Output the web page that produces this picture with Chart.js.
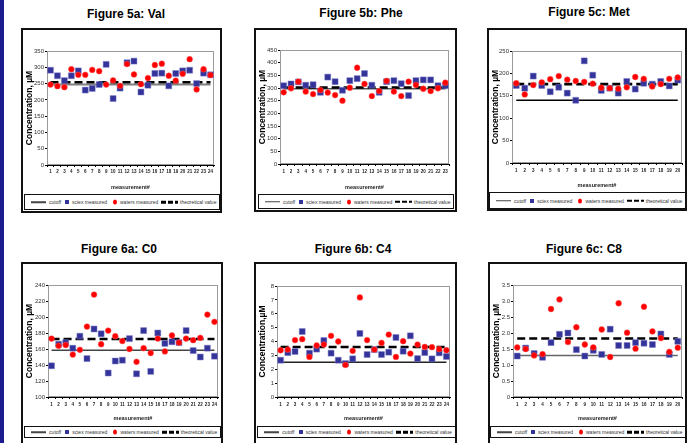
<!DOCTYPE html>
<html>
<head>
<meta charset="utf-8">
<script src="https://cdn.jsdelivr.net/npm/chart.js@4/dist/chart.umd.min.js"></script>
<style>
body{margin:0;background:#fff;width:694px;height:443px;overflow:hidden;position:relative;font-family:"Liberation Sans",Arial,sans-serif}
#strip{position:absolute;left:0;top:0;width:4px;height:443px;background:#1b1b8e}
.title{position:absolute;font-weight:bold;font-size:12px;line-height:12px;transform:translate(-50%,-50%);white-space:nowrap;color:#000}
.frame{position:absolute;border:2px solid #111;box-sizing:border-box;pointer-events:none}
canvas{position:absolute}
.legend{position:absolute;border:1.5px solid #111;box-sizing:border-box;font-size:5px;color:#333;background:#fff}
.legend span{position:absolute;top:50%;transform:translateY(-50%);white-space:nowrap}
.lg-solid{height:1.5px;background:#444}
.lg-sq{width:4px;height:4px;background:#333399}
.lg-ci{width:4px;height:5px;border-radius:50%;background:#ff0000}
.lg-dash{height:2.5px;background:repeating-linear-gradient(90deg,#000 0 5px,transparent 5px 7px)}
</style>
</head>
<body>
<div id="strip"></div>
<script>
"use strict";

//region Data
const labels24=["1","2","3","4","5","6","7","8","9","10","11","12","13","14","15","16","17","18","19","20","21","22","23","24"];
const labels23=["1","2","3","4","5","6","7","8","9","10","11","12","13","14","15","16","17","18","19","20","21","22","23"];
const labels20=["1","2","3","4","5","6","7","8","9","10","11","12","13","14","15","16","17","18","19","20"];

const valSciex=[291,274,259,274,289,230,235,247,309,204,236,314,319,224,245,281,282,243,281,289,291,250,282,277];
const valWaters=[247,242,239,294,277,277,292,288,247,260,243,310,278,248,267,307,311,274,259,280,325,232,294,276];
const valCutoff=247, valTheory=254;

const pheSciex=[309,316,324,311,313,283,343,325,291,329,337,357,311,283,325,329,317,270,329,332,332,309,309];
const pheWaters=[283,299,325,286,276,292,282,272,250,301,380,316,268,288,328,286,268,325,312,297,288,299,321];
const pheCutoff=297, pheTheory=302;

const metSciex=[173,167,194,173,159,169,156,140,228,196,162,167,156,182,165,178,176,182,172,185];
const metWaters=[178,153,174,180,187,194,186,183,181,177,168,167,166,169,192,188,171,176,188,191];
const metCutoff=140, metTheory=176;

const c0Sciex=[139,166,168,161,176,148,185,179,130,145,146,173,129,183,132,180,167,169,168,183,158,150,161,151];
const c0Waters=[173,164,165,153,159,188,228,166,183,176,170,160,144,161,155,173,157,177,168,173,171,174,203,194];
const c0Cutoff=158.5, c0Theory=172.5;

const c4Sciex=[2.65,3.2,3.28,4.72,3.16,3.45,4.07,3.16,2.65,2.41,2.75,4.58,3.06,3.42,3.06,3.23,4.29,3.3,4.41,2.77,3.2,2.75,3.18,2.92];
const c4Waters=[3.37,3.42,4.1,4.17,2.89,3.71,3.78,4.41,4.0,2.31,3.33,7.18,4.1,3.42,3.9,4.5,2.89,4.02,3.13,3.78,3.61,3.59,3.45,3.37];
const c4Cutoff=2.5, c4Theory=3.6;

const c8Sciex=[1.28,1.53,1.36,1.24,1.70,1.96,2.0,1.48,1.28,1.46,1.33,2.12,1.61,1.61,1.70,1.68,1.64,1.97,1.33,1.74];
const c8Waters=[1.55,1.50,1.30,1.34,2.75,3.05,1.72,2.18,1.64,1.55,2.11,1.25,2.93,2.01,1.51,2.82,2.05,1.84,1.41,1.54];
const c8Cutoff=1.3, c8Theory=1.83;
//endregion

//region Panels
const panels=[
    {title:"Figure 5a: Val",tx:126,ty:14,labels:labels24,sciex:valSciex,waters:valWaters,cutoff:valCutoff,theory:valTheory,
     min:0,max:350,step:50,yTitle:"Concentration, µM",cutColor:"#808080",cutWidth:2,
     frame:{l:21,t:28,r:222,b:213},plot:{l:47,t:51,r:214,b:165},lab:172,mt:187,leg:{l:24,t:194,r:220,b:210}},
    {title:"Figure 5b: Phe",tx:361,ty:13,labels:labels23,sciex:pheSciex,waters:pheWaters,cutoff:pheCutoff,theory:pheTheory,
     min:0,max:450,step:50,yTitle:"Concentration, µM",cutColor:"#555",cutWidth:1.5,
     frame:{l:254,t:28,r:457,b:212},plot:{l:280,t:50,r:449,b:164},lab:172,mt:187,leg:{l:258,t:194,r:454,b:209}},
    {title:"Figure 5c: Met",tx:589,ty:12,labels:labels20,sciex:metSciex,waters:metWaters,cutoff:metCutoff,theory:metTheory,
     min:0,max:250,step:50,yTitle:"Concentration, µM",cutColor:"#000",cutWidth:1.5,
     frame:{l:487,t:28,r:687,b:211},plot:{l:512,t:51,r:683,b:163},lab:171,mt:185,leg:{l:489,t:192,r:686,b:209}},
    {title:"Figure 6a: C0",tx:119,ty:249,labels:labels24,sciex:c0Sciex,waters:c0Waters,cutoff:c0Cutoff,theory:c0Theory,
     min:100,max:240,step:20,yTitle:"Concentration, µM",cutColor:"#444",cutWidth:1.5,
     frame:{l:21,t:262,r:223,b:447},plot:{l:48,t:285,r:219,b:397},lab:405,mt:418,leg:{l:24,t:426,r:221,b:438}},
    {title:"Figure 6b: C4",tx:353,ty:249,labels:labels24,sciex:c4Sciex,waters:c4Waters,cutoff:c4Cutoff,theory:c4Theory,
     min:0,max:8,step:1,yTitle:"Concentration,µM",cutColor:"#222",cutWidth:1.5,
     frame:{l:254,t:262,r:457,b:447},plot:{l:277,t:286,r:450,b:397},lab:405,mt:418,leg:{l:257,t:426,r:456,b:438}},
    {title:"Figure 6c: C8",tx:584,ty:249,labels:labels20,sciex:c8Sciex,waters:c8Waters,cutoff:c8Cutoff,theory:c8Theory,
     min:0,max:3.5,step:0.5,yTitle:"Concentration, µM",cutColor:"#666",cutWidth:1.5,
     frame:{l:488,t:262,r:687,b:447},plot:{l:513,t:285,r:683,b:397},lab:405,mt:418,leg:{l:490,t:426,r:686,b:438}}
];
//endregion

//region Main
const plotBorder={
    id:"plotBorder",
    beforeDatasetsDraw(chart){
        const a=chart.chartArea, ctx=chart.ctx;
        ctx.save();
        ctx.strokeStyle="#9a9a9a";
        ctx.lineWidth=1;
        ctx.strokeRect(a.left+0.5,a.top+0.5,a.right-a.left-1,a.bottom-a.top-1);
        ctx.restore();
    }
};

function addDiv(cls,css,html){
    let d=document.createElement("div");
    d.className=cls;
    Object.assign(d.style,css);
    if(html) d.innerHTML=html;
    document.body.appendChild(d);
    return d;
}

function buildLegend(p){
    let w=p.leg.r-p.leg.l;
    let box=addDiv("legend",{left:p.leg.l+"px",top:p.leg.t+"px",width:w+"px",height:(p.leg.b-p.leg.t)+"px"});
    let f=w/196;
    let items=[
        ["lg-solid",6,15,""],["",24,0,"cutoff"],["lg-sq",40,0,""],["",47,0,"sciex measured"],
        ["lg-ci",88,0,""],["",95,0,"waters measured"],["lg-dash",136,17,""],["",155,0,"theoretical value"]
    ];
    for(let it of items){
        let s=document.createElement("span");
        if(it[0]) s.className=it[0];
        s.style.left=(it[1]*f)+"px";
        if(it[2]) s.style.width=(it[2]*f)+"px";
        if(it[3]) s.textContent=it[3];
        box.appendChild(s);
    }
}

for(let p of panels){
    addDiv("title",{left:p.tx+"px",top:p.ty+"px"},p.title);

    let cw=p.frame.r-p.frame.l, ch=p.leg.t-p.frame.t;
    let cv=document.createElement("canvas");
    cv.width=cw; cv.height=ch;
    cv.style.left=p.frame.l+"px"; cv.style.top=p.frame.t+"px";
    cv.style.width=cw+"px"; cv.style.height=ch+"px";
    document.body.appendChild(cv);

    let padL=4;
    let yW=p.plot.l-p.frame.l-padL;
    let xH=ch-(p.plot.b-p.frame.t);
    let first=p.labels[0], last=p.labels[p.labels.length-1];
    let tickPad=p.lab-p.plot.b-2-2.7;
    let titlePad=(p.leg.t-p.mt)-3.3;

    new Chart(cv,{
        type:"line",
        data:{
            labels:p.labels,
            datasets:[
                {label:"cutoff",data:[{x:first,y:p.cutoff},{x:last,y:p.cutoff}],borderColor:p.cutColor,borderWidth:p.cutWidth,pointRadius:0,order:3},
                {label:"sciex measured",data:p.sciex,showLine:false,pointStyle:"rect",pointRadius:4.2,pointBackgroundColor:"#333399",pointBorderColor:"rgba(120,120,200,0.6)",pointBorderWidth:0.8,order:1},
                {label:"waters measured",data:p.waters,showLine:false,pointStyle:"circle",pointRadius:2.9,pointBackgroundColor:"#ff0000",pointBorderColor:"rgba(255,90,90,0.6)",pointBorderWidth:0.8,order:0},
                {label:"theoretical value",data:[{x:first,y:p.theory},{x:last,y:p.theory}],borderColor:"#000",borderWidth:2.6,borderDash:[8,4],pointRadius:0,order:2}
            ]
        },
        options:{
            responsive:false,
            devicePixelRatio:1,
            animation:false,
            events:[],
            layout:{padding:{left:padL,top:p.plot.t-p.frame.t,right:p.frame.r-p.plot.r,bottom:0}},
            plugins:{legend:{display:false},tooltip:{enabled:false},title:{display:false}},
            scales:{
                x:{
                    type:"category",
                    offset:true,
                    afterFit(s){ s.height=xH; },
                    grid:{drawOnChartArea:false,drawTicks:true,tickLength:2,color:"#000",offset:true},
                    border:{display:true,color:"#000",width:1},
                    ticks:{autoSkip:false,maxRotation:0,minRotation:0,padding:tickPad,color:"#222",font:{family:"Liberation Sans",size:4.5,weight:"bold"}},
                    title:{display:true,text:"measurement#",color:"#222",padding:{top:0,bottom:titlePad},font:{family:"Liberation Sans",size:5.5,weight:"bold"}}
                },
                y:{
                    min:p.min,max:p.max,
                    afterFit(s){ s.width=yW; },
                    grid:{drawOnChartArea:false,drawTicks:true,tickLength:2,color:"#000"},
                    border:{display:true,color:"#000",width:1},
                    ticks:{stepSize:p.step,padding:1,color:"#333",font:{family:"Liberation Sans",size:6}},
                    title:{display:true,text:p.yTitle,color:"#000",padding:{top:0,bottom:0},font:{family:"Liberation Sans",size:8.5,weight:"bold"}}
                }
            }
        },
        plugins:[plotBorder]
    });

    addDiv("frame",{left:p.frame.l+"px",top:p.frame.t+"px",width:cw+"px",height:(p.frame.b-p.frame.t)+"px"});
    buildLegend(p);
}
//endregion
</script>
</body>
</html>
